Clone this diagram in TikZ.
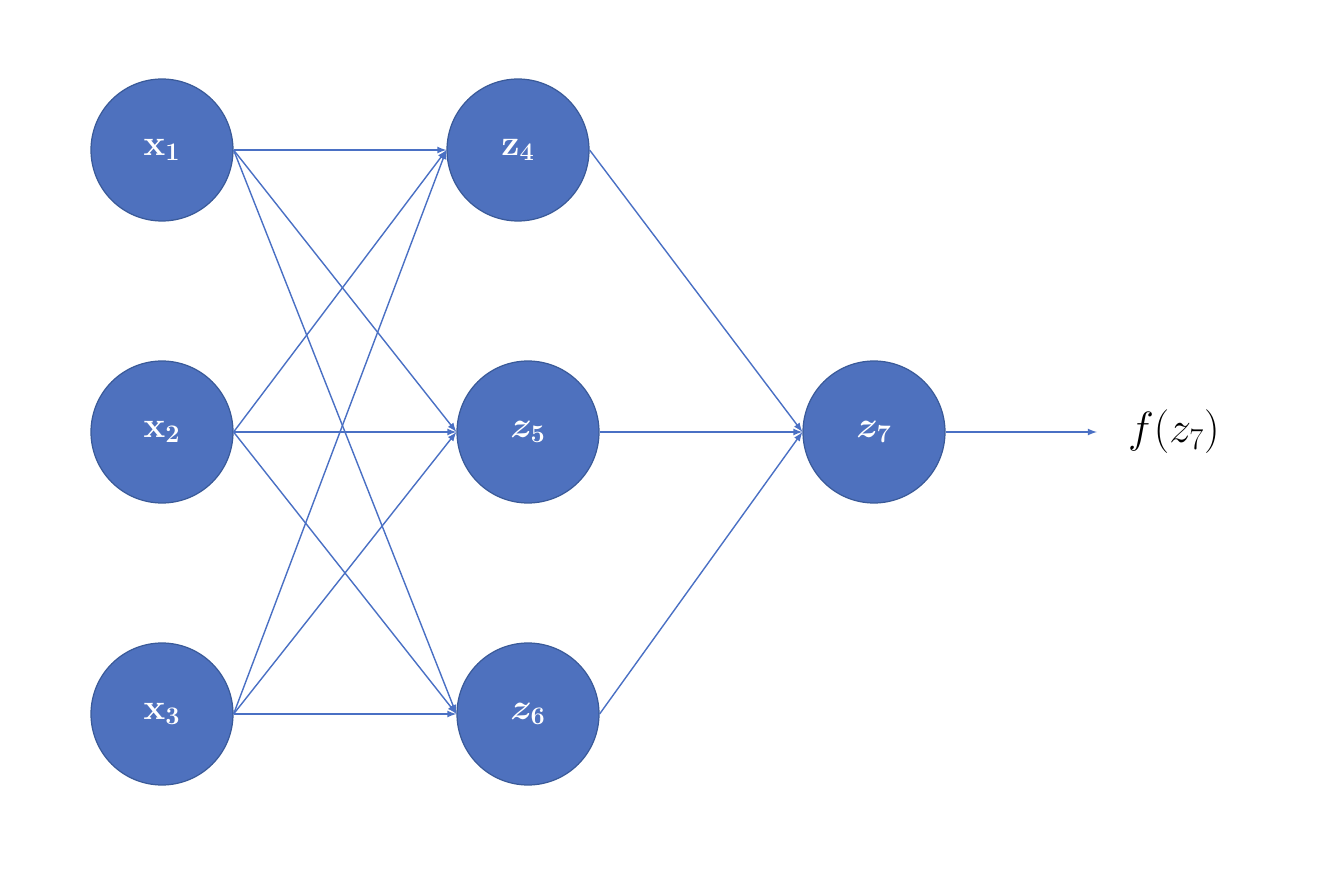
\documentclass[tikz,border=0pt]{standalone}
\usepackage{tikz}
\usetikzlibrary{arrows,shapes,calc}
\usepackage[dvipsnames]{xcolor}

\definecolor{unitfill}{HTML}{4E71BE}
\definecolor{unitline}{HTML}{3A5A99}
\definecolor{wireblue}{HTML}{4A70C4}

\begin{document}
\begin{tikzpicture}[x=0.02cm,y=-0.02cm,
            unit/.style = {circle, draw=unitline, fill=unitfill, line width=0.7pt,
                           minimum size=2.84cm, inner sep=0pt, text=white,
                           font=\fontsize{21}{24}\selectfont\boldmath},
            wire/.style = {draw=wireblue, line width=0.8pt, -latex},
            ]
            \useasboundingbox (0,0) rectangle (1320,878);
            % input layer
            \node[unit] (x1) at (162,150) {$\mathbf{x}_1$};
            \node[unit] (x2) at (162,432) {$\mathbf{x}_2$};
            \node[unit] (x3) at (162,714) {$\mathbf{x}_3$};
            % hidden layer
            \node[unit] (z4) at (518,150) {$\mathbf{z}_4$};
            \node[unit] (z5) at (528,432) {$z_5$};
            \node[unit] (z6) at (528,714) {$z_6$};
            % output
            \node[unit] (z7) at (874,432) {$z_7$};
            \node[anchor=west, font=\fontsize{23}{26}\selectfont] (out) at (1122,432) {$f(z_7)$};
            \coordinate (end) at (1097,432);

            \foreach \i in {1,2,3}
                \foreach \j in {4,5,6}
                    \draw[wire] (x\i.east) -- (z\j.west);
            \foreach \j in {4,5,6}
                \draw[wire] (z\j.east) -- (z7.west);
            \draw[wire] (z7.east) -- (end);
        \end{tikzpicture}
\end{document}
